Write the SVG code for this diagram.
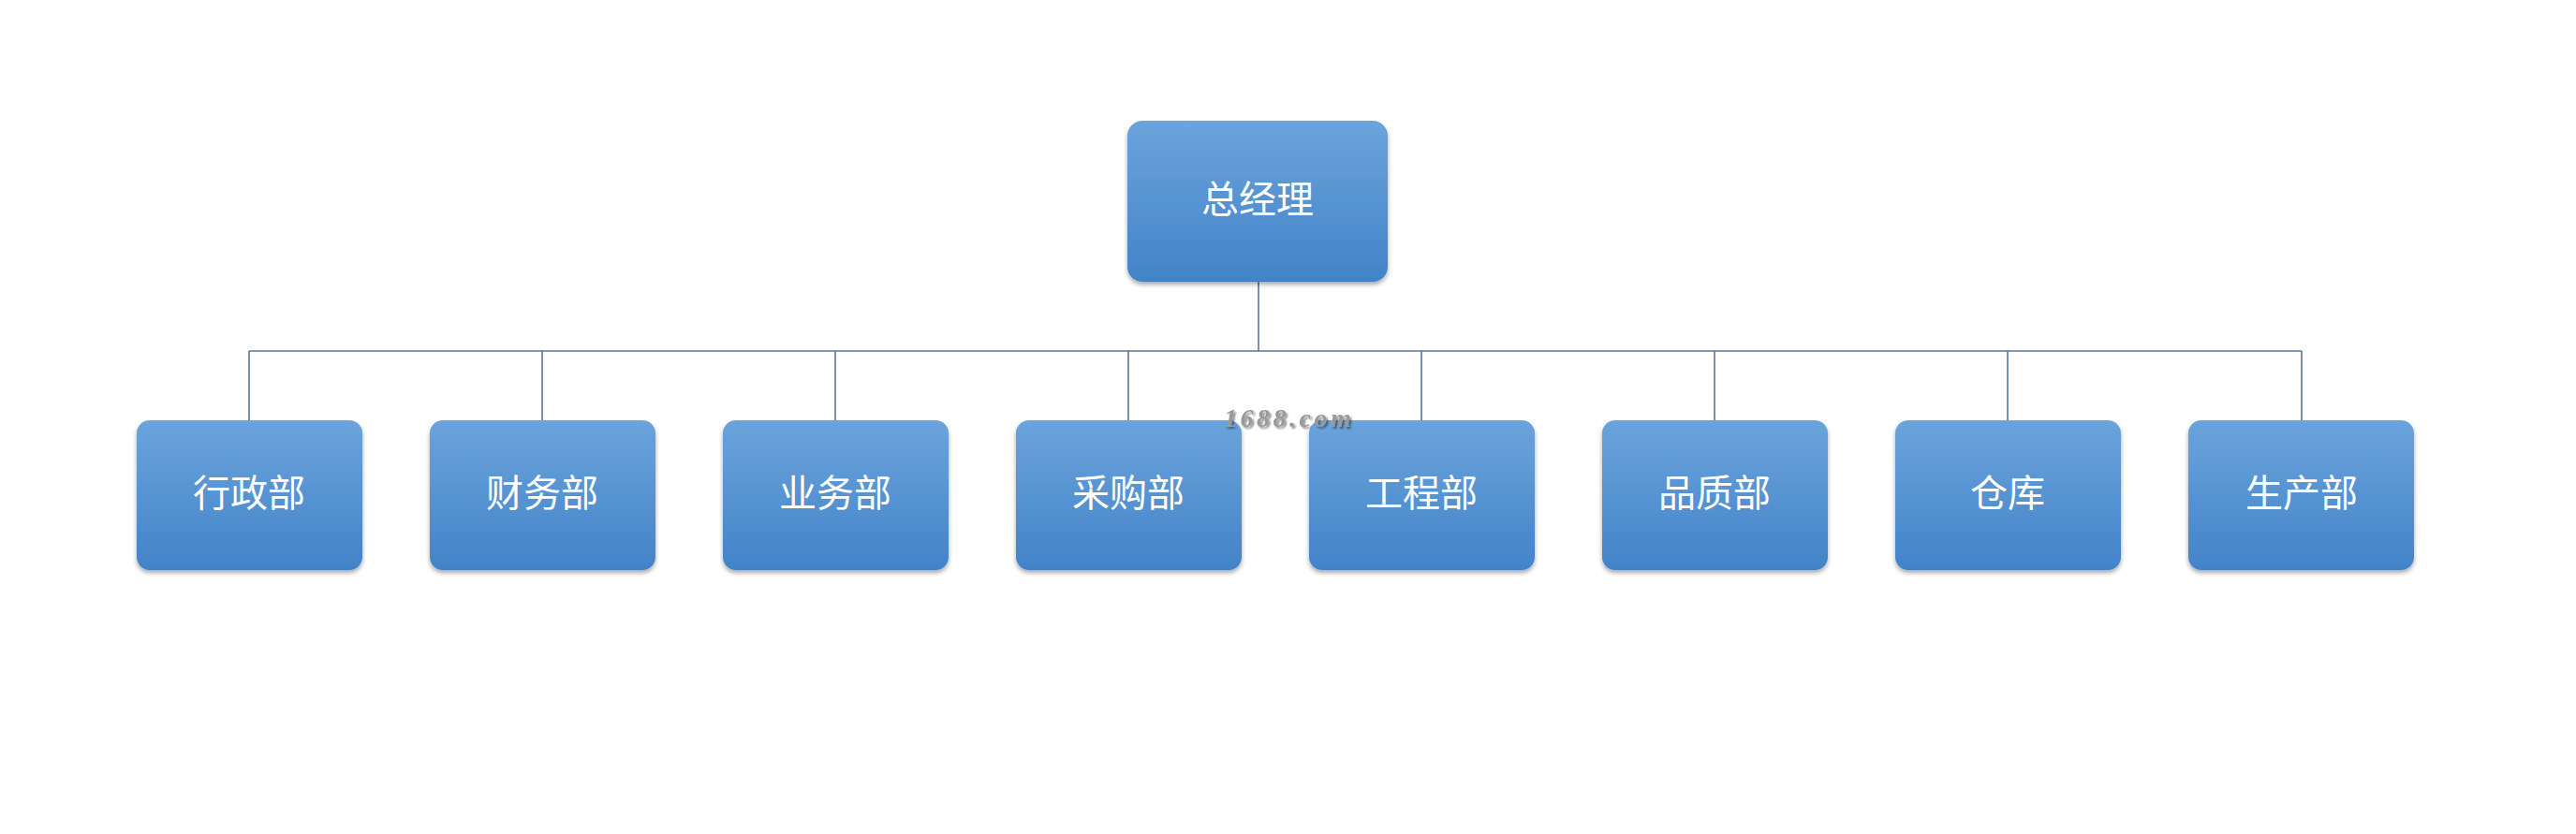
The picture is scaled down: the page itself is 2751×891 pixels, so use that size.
<svg xmlns="http://www.w3.org/2000/svg" width="2751" height="891" viewBox="0 0 2751 891">
<defs>
<linearGradient id="g" x1="0" y1="0" x2="0" y2="1">
<stop offset="0" stop-color="#6ba4dc"/>
<stop offset="1" stop-color="#4283c8"/>
</linearGradient>
<filter id="sh" x="-10%" y="-10%" width="120%" height="130%">
<feGaussianBlur in="SourceAlpha" stdDeviation="2.5"/>
<feOffset dx="0" dy="3" result="b"/>
<feComponentTransfer><feFuncA type="linear" slope="0.35"/></feComponentTransfer>
<feMerge><feMergeNode/><feMergeNode in="SourceGraphic"/></feMerge>
</filter>
<filter id="ws" x="-10%" y="-30%" width="120%" height="160%">
<feGaussianBlur in="SourceAlpha" stdDeviation="1"/>
<feOffset dx="2" dy="2"/>
<feComponentTransfer><feFuncA type="linear" slope="0.45"/></feComponentTransfer>
<feMerge><feMergeNode/><feMergeNode in="SourceGraphic"/></feMerge>
</filter>
</defs>
<style>
.box{fill:url(#g);filter:url(#sh);}
.lbl{fill:#ffffff;font-family:"Noto Sans CJK SC","Liberation Sans",sans-serif;font-size:40px;text-anchor:middle;dominant-baseline:central;}
.ln{stroke:#56779a;stroke-width:1.6;fill:none;}
</style>
<rect width="2751" height="891" fill="#ffffff"/>
<g id="connectors">
<path class="ln" d="M1344 301V375"/>
<path class="ln" d="M266 375H2458"/>
<path class="ln" d="M266 375V449M579 375V449M892 375V449M1205 375V449M1518 375V449M1831 375V449M2144 375V449M2458 375V449"/>
</g>
<g id="n0"><rect class="box" x="1204" y="129" width="278" height="172" rx="16"/><text class="lbl" x="1343" y="210">总经理</text></g>
<g id="n1"><rect class="box" x="146" y="449" width="241" height="160" rx="14"/><text class="lbl" x="266" y="524">行政部</text></g>
<g id="n2"><rect class="box" x="459" y="449" width="241" height="160" rx="14"/><text class="lbl" x="579" y="524">财务部</text></g>
<g id="n3"><rect class="box" x="772" y="449" width="241" height="160" rx="14"/><text class="lbl" x="892" y="524">业务部</text></g>
<g id="n4"><rect class="box" x="1085" y="449" width="241" height="160" rx="14"/><text class="lbl" x="1205" y="524">采购部</text></g>
<g id="n5"><rect class="box" x="1398" y="449" width="241" height="160" rx="14"/><text class="lbl" x="1518" y="524">工程部</text></g>
<g id="n6"><rect class="box" x="1711" y="449" width="241" height="160" rx="14"/><text class="lbl" x="1831" y="524">品质部</text></g>
<g id="n7"><rect class="box" x="2024" y="449" width="241" height="160" rx="14"/><text class="lbl" x="2144" y="524">仓库</text></g>
<g id="n8"><rect class="box" x="2337" y="449" width="241" height="160" rx="14"/><text class="lbl" x="2458" y="524">生产部</text></g>
<text x="1307" y="456" font-family="'Liberation Serif',serif" font-style="italic" font-weight="bold" font-size="28" letter-spacing="3.5" fill="#999999" filter="url(#ws)">1688.com</text>
</svg>
